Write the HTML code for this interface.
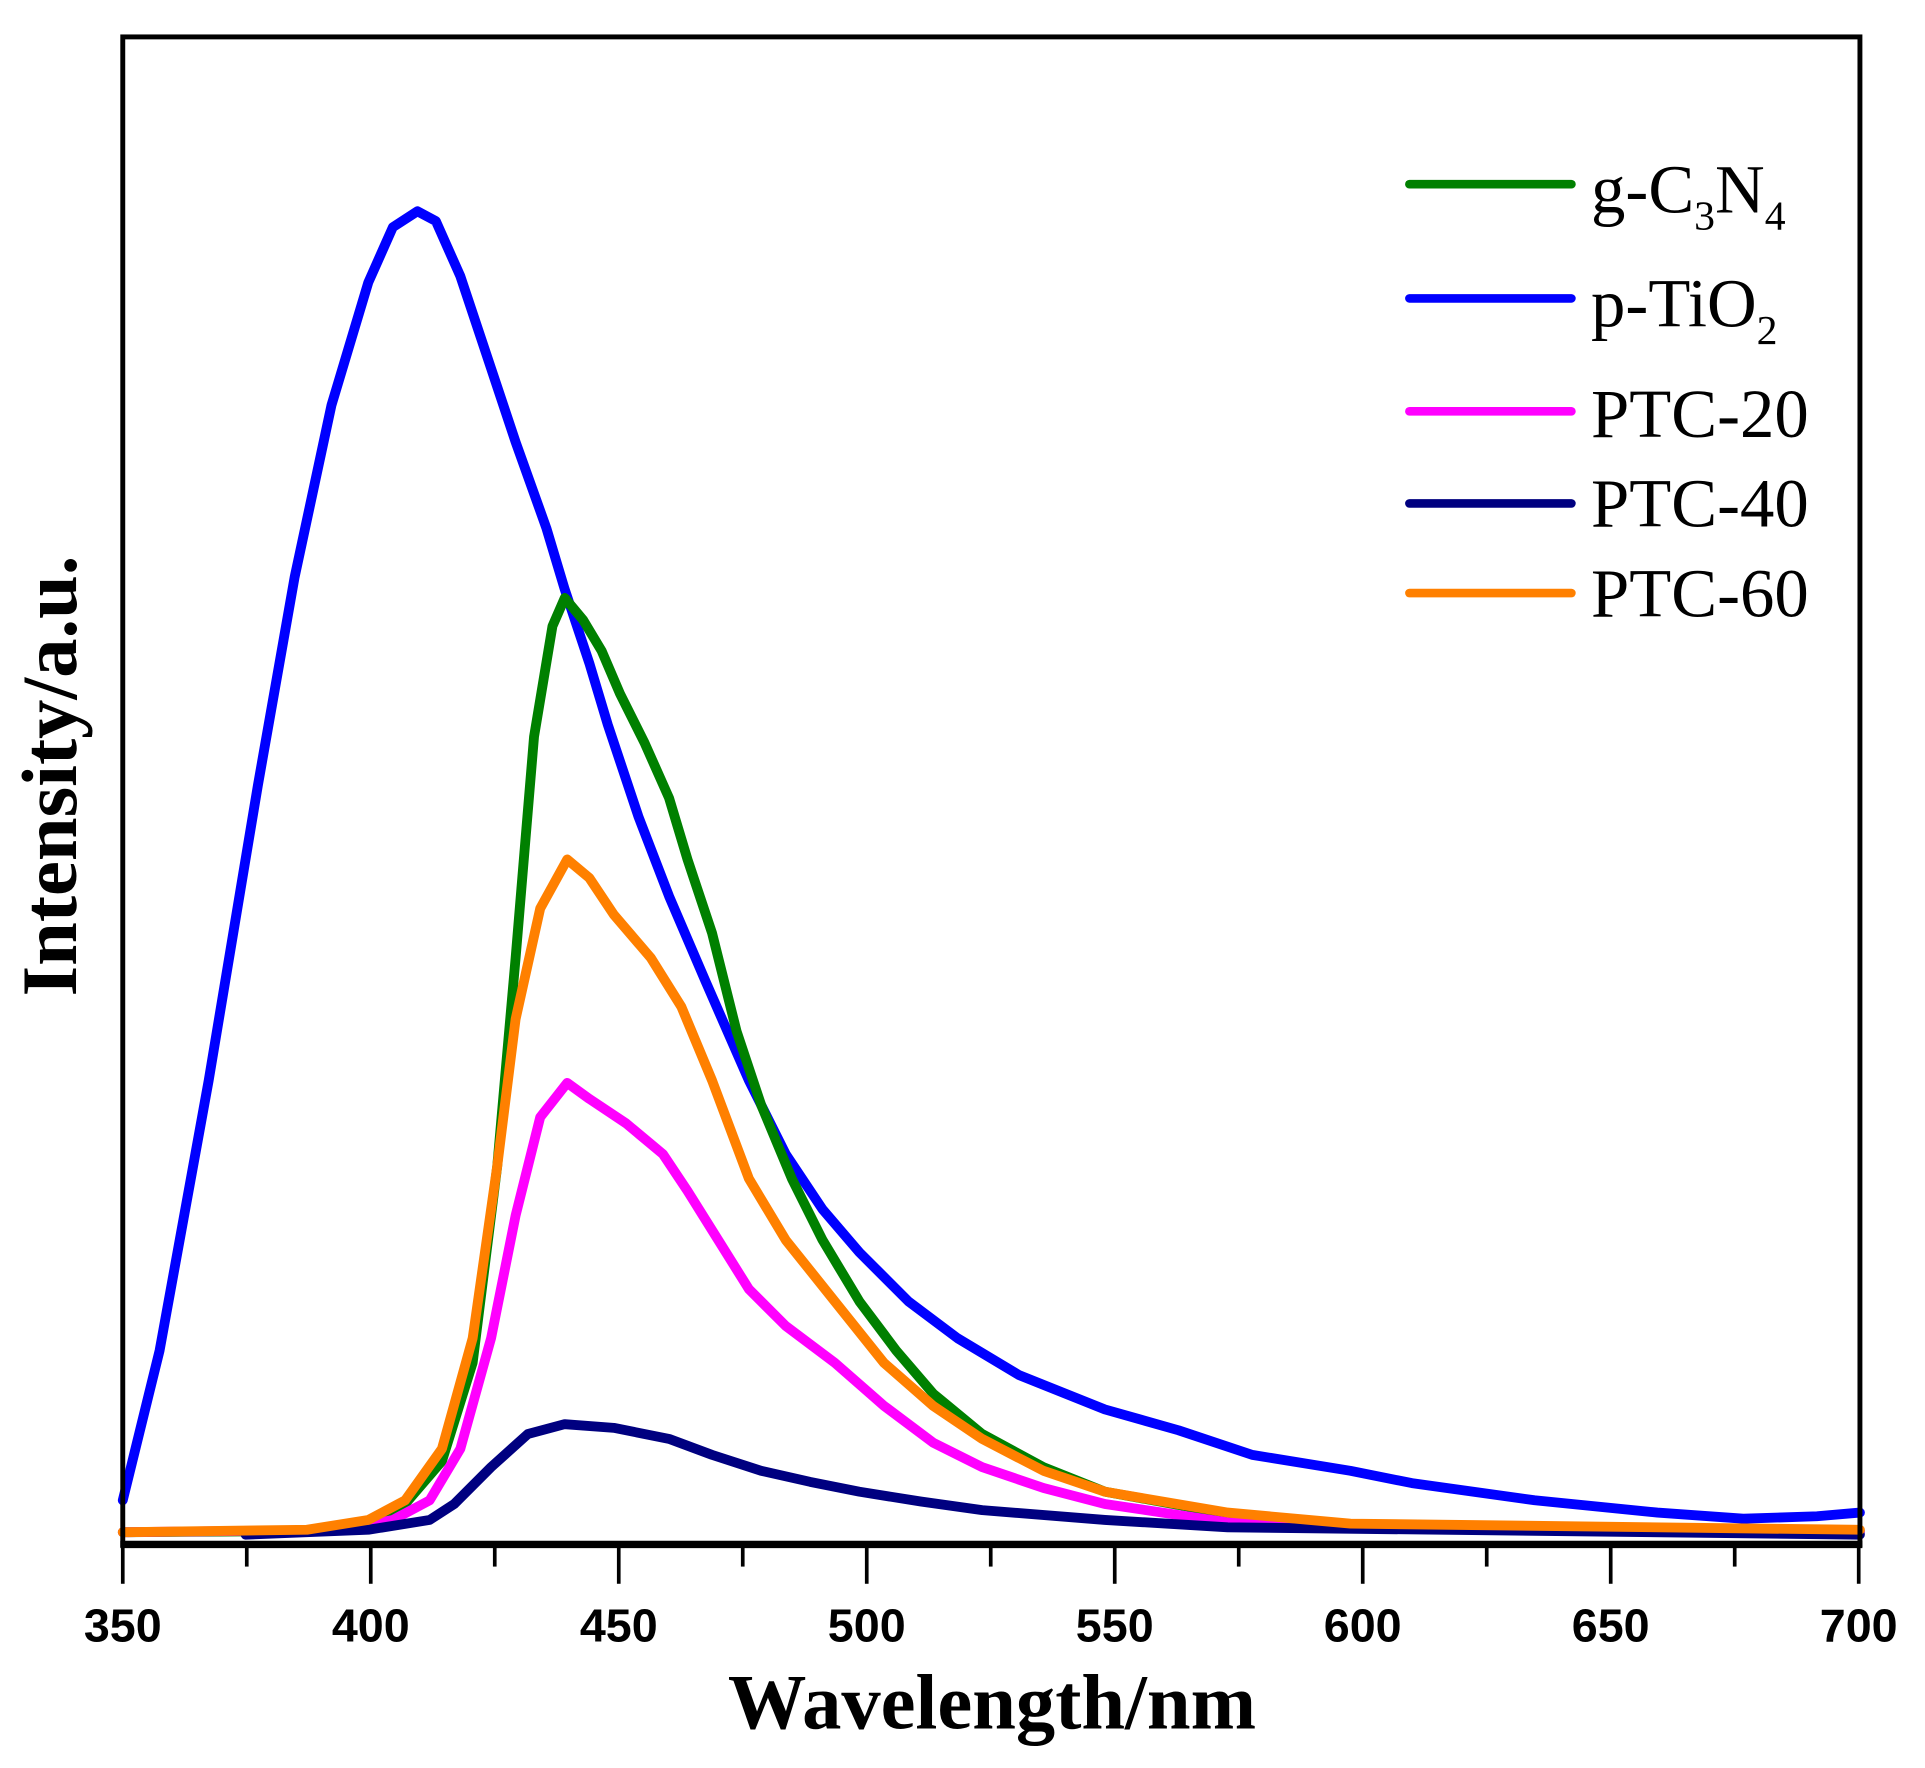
<!DOCTYPE html>
<html><head><meta charset="utf-8"><style>html,body{margin:0;padding:0;background:#fff}svg{display:block}</style></head>
<body>
<svg width="1925" height="1768" viewBox="0 0 1568 1440" xmlns="http://www.w3.org/2000/svg">
<rect width="1568" height="1440" fill="#fff"/>
<g fill="none" stroke-width="8" stroke-linejoin="round" stroke-linecap="round">
<polyline stroke="#0000ff" points="100,1222 130,1100 170,880 210,640 240,470 270,330 300,230 320,185 340,172 355,180 375,225 400,300 420,360 445,430 460,480 480,540 495,590 520,665 545,730 575,800 610,880 640,940 670,985 700,1020 740,1060 780,1090 830,1120 900,1148 960,1165 1020,1185 1100,1198 1150,1208 1250,1222 1350,1232 1420,1237 1480,1235 1515,1232"/>
<polyline stroke="#008000" points="100,1248 250,1247 300,1240 330,1225 360,1190 385,1110 405,950 420,780 435,600 450,510 460,487 475,505 490,530 505,565 525,605 545,650 560,700 580,760 600,840 620,900 645,960 670,1010 700,1060 730,1100 760,1135 800,1168 850,1195 900,1215 1000,1233 1100,1242 1515,1247"/>
<polyline stroke="#ff00ff" points="100,1248 280,1246 320,1238 350,1222 375,1180 400,1090 420,990 440,910 462,882 480,895 510,915 540,940 560,970 585,1010 610,1050 640,1080 680,1110 720,1145 760,1175 800,1195 850,1212 900,1225 1000,1240 1515,1248"/>
<polyline stroke="#000080" points="200,1250 300,1246 350,1238 370,1225 400,1195 430,1168 460,1160 500,1163 545,1172 580,1185 620,1198 660,1207 700,1215 750,1223 800,1230 900,1238 1000,1244 1515,1250"/>
<polyline stroke="#ff8000" points="100,1248 250,1246 300,1238 330,1222 360,1180 385,1090 405,950 420,830 440,740 462,700 480,715 500,745 530,780 555,820 580,880 610,960 640,1010 680,1060 720,1110 760,1145 800,1172 850,1198 900,1215 1000,1232 1100,1241 1515,1246"/>
</g>
<rect x="100" y="30" width="1415" height="1228" fill="none" stroke="#000" stroke-width="4"/>
<line x1="98" y1="1258" x2="1517" y2="1258" stroke="#000" stroke-width="6"/>
<g stroke="#000" stroke-width="3">
<line x1="100" y1="1258" x2="100" y2="1290"/><line x1="201" y1="1258" x2="201" y2="1276"/>
<line x1="302" y1="1258" x2="302" y2="1290"/><line x1="403" y1="1258" x2="403" y2="1276"/>
<line x1="504" y1="1258" x2="504" y2="1290"/><line x1="605" y1="1258" x2="605" y2="1276"/>
<line x1="706" y1="1258" x2="706" y2="1290"/><line x1="807" y1="1258" x2="807" y2="1276"/>
<line x1="908" y1="1258" x2="908" y2="1290"/><line x1="1009" y1="1258" x2="1009" y2="1276"/>
<line x1="1110" y1="1258" x2="1110" y2="1290"/><line x1="1211" y1="1258" x2="1211" y2="1276"/>
<line x1="1312" y1="1258" x2="1312" y2="1290"/><line x1="1413" y1="1258" x2="1413" y2="1276"/>
<line x1="1514" y1="1258" x2="1514" y2="1290"/>
</g>
<g font-family="Liberation Sans, sans-serif" font-weight="bold" font-size="38" text-anchor="middle" fill="#000">
<text x="100" y="1337">350</text><text x="302" y="1337">400</text><text x="504" y="1337">450</text>
<text x="706" y="1337">500</text><text x="908" y="1337">550</text><text x="1110" y="1337">600</text>
<text x="1312" y="1337">650</text><text x="1514" y="1337">700</text>
</g>
<text x="808" y="1408" font-family="Liberation Serif, serif" font-weight="bold" font-size="64" text-anchor="middle">Wavelength/nm</text>
<text transform="translate(62,632) rotate(-90)" font-family="Liberation Serif, serif" font-weight="bold" font-size="64" text-anchor="middle">Intensity/a.u.</text>
<g stroke-width="7" stroke-linecap="round">
<line x1="1148" y1="150" x2="1280" y2="150" stroke="#008000"/>
<line x1="1148" y1="243" x2="1280" y2="243" stroke="#0000ff"/>
<line x1="1148" y1="335" x2="1280" y2="335" stroke="#ff00ff"/>
<line x1="1148" y1="410" x2="1280" y2="410" stroke="#000080"/>
<line x1="1148" y1="483" x2="1280" y2="483" stroke="#ff8000"/>
</g>
<g font-family="Liberation Serif, serif" font-size="56" fill="#000">
<text x="1296" y="173">g-C<tspan font-size="34" dy="14">3</tspan><tspan dy="-14">N</tspan><tspan font-size="34" dy="14">4</tspan></text>
<text x="1296" y="266">p-TiO<tspan font-size="34" dy="14">2</tspan></text>
<text x="1296" y="356">PTC-20</text>
<text x="1296" y="429">PTC-40</text>
<text x="1296" y="502">PTC-60</text>
</g>
</svg>
</body></html>
